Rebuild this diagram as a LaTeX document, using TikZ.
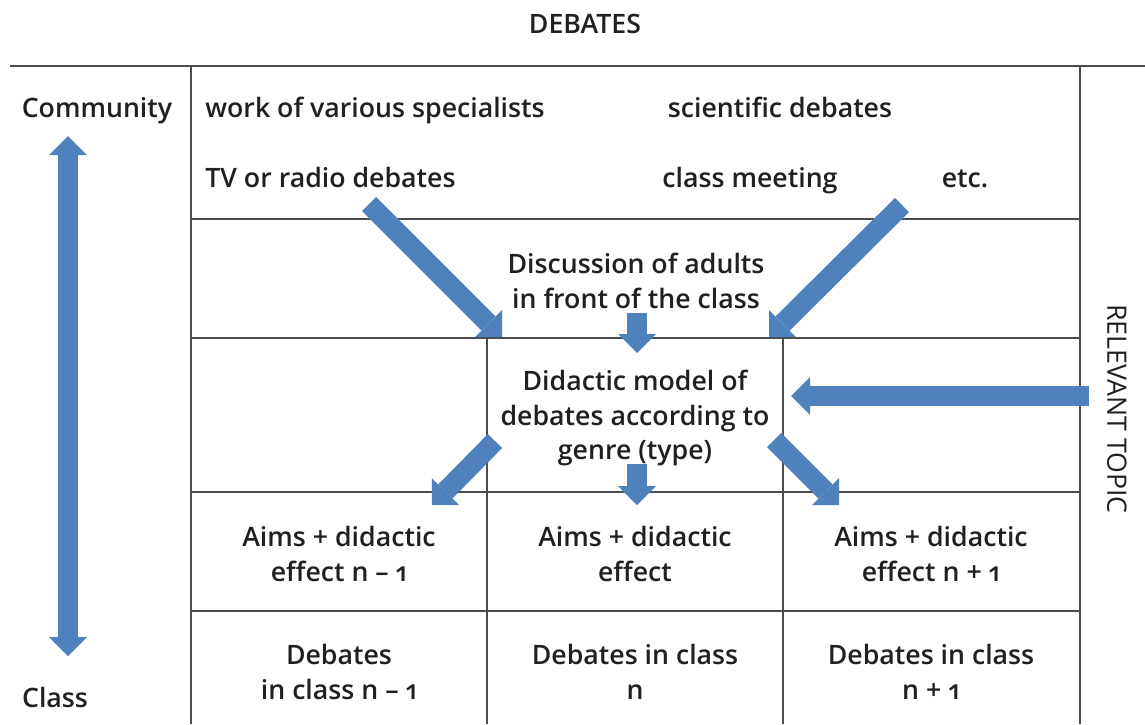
\documentclass[tikz,border=0pt]{standalone}
\usepackage{fontspec}
\IfFontExistsTF{Open Sans Semibold}
  {\setmainfont{Open Sans Semibold}[Numbers=OldStyle]}
  {\setmainfont{Open Sans}[FakeBold=1.4, Numbers=OldStyle]}
\newfontfamily\plainfont{Open Sans}
\usetikzlibrary{arrows.meta}
\definecolor{arrowblue}{HTML}{4F81BD}
\definecolor{ink}{HTML}{231F20}

\begin{document}
\begin{tikzpicture}[x=0.02cm, y=-0.02cm,
  >={Triangle[length=0.38cm, width=0.76cm, line width=0pt]},
  every node/.style={font=\fontsize{15.2}{19.8}\selectfont, text=ink, inner sep=0pt},
  grid/.style={draw=black!70, line width=0.6pt},
  label/.style={anchor=base},
  cell/.style={align=center},
  item/.style={anchor=base west},
  blockarrow/.style={draw=arrowblue, line width=0.4cm, ->}]
  \useasboundingbox (0,0) rectangle (1145,724);
  % Table rules
  \draw[grid] (10,66) -- (1145,66);
  \draw[grid] (191,66) -- (191,724);
  \draw[grid] (1080,66) -- (1080,724);
  \draw[grid] (191,219) -- (1080,219);
  \draw[grid] (191,338) -- (1080,338);
  \draw[grid] (191,492) -- (1080,492);
  \draw[grid] (191,611) -- (1080,611);
  \draw[grid] (487,338) -- (487,724);
  \draw[grid] (783,338) -- (783,724);
  % Headings
  \node[label] (debates) at (585,33) {DEBATES};
  \node[label] (community) at (97,117) {Community};
  \node[label] (class) at (55,707) {Class};
  \node[rotate=-90] (topic) at (1117,409) {\plainfont RELEVANT TOPIC};
  % Kinds of debates (top row)
  \node[item] (specialists) at (205,117) {work of various specialists};
  \node[label] (scientific) at (780,117) {scientific debates};
  \node[item] (media) at (205,187) {TV or radio debates};
  \node[label] (meeting) at (750,187) {class meeting};
  \node[label] (etc) at (965,187) {etc.};
  % Middle rows
  \node[cell] (adults) at (636,281) {Discussion of adults\\in front of the class};
  \node[cell] (model) at (635,418) {Didactic model of\\debates according to\\genre (type)};
  % Aims per lesson
  \node[cell] (aimsL) at (339,554) {Aims + didactic\\effect n -- 1};
  \node[cell] (aimsM) at (635,554) {Aims + didactic\\effect};
  \node[cell] (aimsR) at (931,554) {Aims + didactic\\effect n + 1};
  % Debates per lesson
  \node[cell] (lessonL) at (339,672) {Debates\\in class n -- 1};
  \node[cell] (lessonM) at (635,672) {Debates in class\\n};
  \node[cell] (lessonR) at (931,672) {Debates in class\\n + 1};
  % Arrow ends
  \coordinate (topTip) at (68,136);
  \coordinate (bottomTip) at (68,656);
  \coordinate (mediaTail) at (369,204);
  \coordinate (modelNW) at (502,337);
  \coordinate (etcTail) at (902,205);
  \coordinate (modelNE) at (769,337);
  \coordinate (adultsTail) at (637,313);
  \coordinate (modelN) at (637,353);
  \coordinate (topicTail) at (1089,396);
  \coordinate (modelE) at (791,396);
  \coordinate (modelSW) at (495,441);
  \coordinate (aimsLTip) at (432,505);
  \coordinate (modelS) at (637,464);
  \coordinate (aimsMTip) at (637,505);
  \coordinate (modelSE) at (774,440);
  \coordinate (aimsRTip) at (839,505);
  % Community <-> class scale
  \draw[blockarrow, <->] (topTip) -- (bottomTip);
  % Into the didactic model
  \draw[blockarrow] (mediaTail) -- (modelNW);
  \draw[blockarrow] (etcTail) -- (modelNE);
  \draw[blockarrow] (adultsTail) -- (modelN);
  \draw[blockarrow] (topicTail) -- (modelE);
  % Out to the aims
  \draw[blockarrow] (modelSW) -- (aimsLTip);
  \draw[blockarrow] (modelS) -- (aimsMTip);
  \draw[blockarrow] (modelSE) -- (aimsRTip);
\end{tikzpicture}
\end{document}
